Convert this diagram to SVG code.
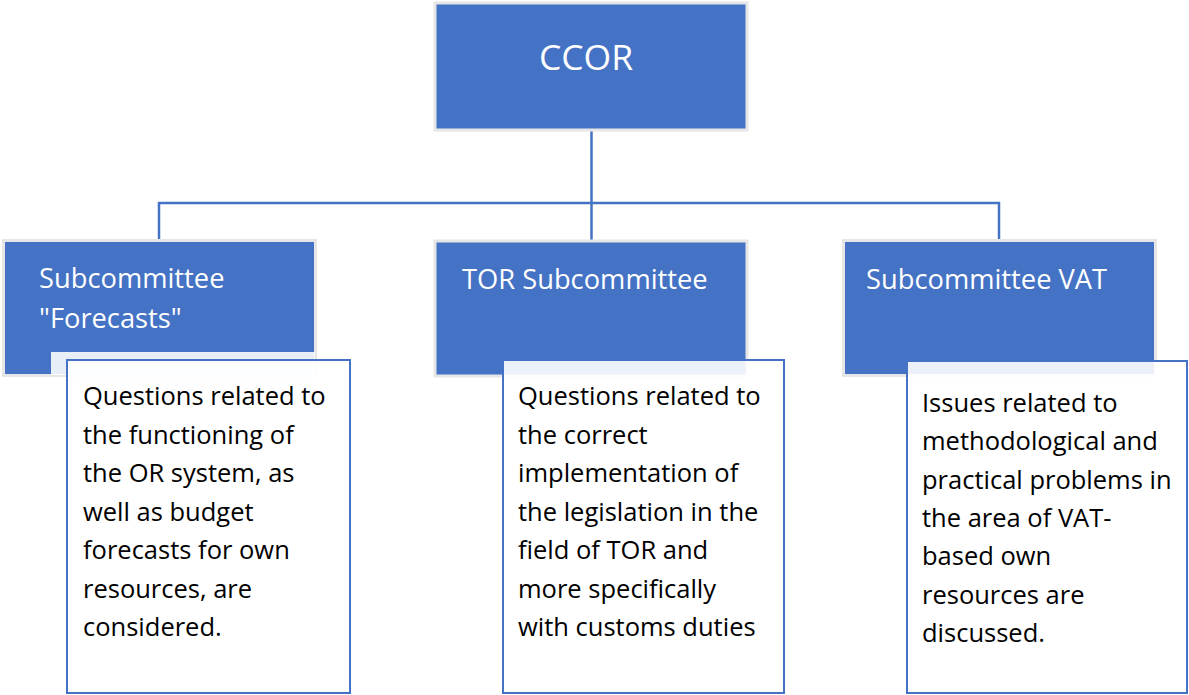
<svg xmlns="http://www.w3.org/2000/svg" width="1189" height="695" viewBox="0 0 1189 695">
<style>
.blue{fill:#4472c4;stroke:#e6e6e6;stroke-width:3}
.card{fill:#ffffff;fill-opacity:0.9;stroke:#4472c4;stroke-width:2}
.band{fill:#ffffff;fill-opacity:0.88}
.title{font-family:"Open Sans","Noto Sans",sans-serif;font-size:27.3px;fill:#ffffff}
.body{font-family:"Open Sans","Noto Sans",sans-serif;font-size:25.5px;fill:#000000}
.conn{fill:none;stroke:#4472c4;stroke-width:2.5}
</style>
<rect width="1189" height="695" fill="#ffffff"/>
<g id="connectors">
<path class="conn" d="M591.5,131 V203 M159,240 V203 H999 V240 M591.5,203 V240"/>
</g>
<g id="ccor">
<rect class="blue" x="435" y="3" width="312" height="127"/>
<text x="586" y="70" text-anchor="middle" style="font-family:'Open Sans','Noto Sans',sans-serif;font-size:35.5px;fill:#ffffff">CCOR</text>
</g>
<g id="forecasts">
<rect class="blue" x="3.5" y="240.5" width="312" height="135"/>
<text class="title" x="39" y="288">Subcommittee</text>
<text class="title" x="39" y="328">"Forecasts"</text>
</g>
<g id="forecasts-desc">
<rect class="band" x="51" y="352" width="264" height="23"/>
<rect class="card" x="67" y="360" width="283" height="333"/>
<text class="body" x="83" y="405">Questions related to</text>
<text class="body" x="83" y="443.5">the functioning of</text>
<text class="body" x="83" y="482">the OR system, as</text>
<text class="body" x="83" y="520.5">well as budget</text>
<text class="body" x="83" y="559">forecasts for own</text>
<text class="body" x="83" y="597.5">resources, are</text>
<text class="body" x="83" y="636">considered.</text>
</g>
<g id="tor">
<rect class="blue" x="435" y="241" width="312" height="135"/>
<text class="title" x="462" y="289">TOR Subcommittee</text>
</g>
<g id="tor-desc">
<rect class="card" x="503" y="360" width="281" height="333"/>
<text class="body" x="518" y="405">Questions related to</text>
<text class="body" x="518" y="443.5">the correct</text>
<text class="body" x="518" y="482">implementation of</text>
<text class="body" x="518" y="520.5">the legislation in the</text>
<text class="body" x="518" y="559">field of TOR and</text>
<text class="body" x="518" y="597.5">more specifically</text>
<text class="body" x="518" y="636">with customs duties</text>
</g>
<g id="vat">
<rect class="blue" x="843.5" y="240.5" width="312" height="135"/>
<text class="title" x="866" y="289">Subcommittee VAT</text>
</g>
<g id="vat-desc">
<rect class="card" x="907" y="361" width="280" height="332"/>
<text class="body" x="922" y="412">Issues related to</text>
<text class="body" x="922" y="450">methodological and</text>
<text class="body" x="922" y="488.5">practical problems in</text>
<text class="body" x="922" y="527">the area of VAT-</text>
<text class="body" x="922" y="565">based own</text>
<text class="body" x="922" y="603.5">resources are</text>
<text class="body" x="922" y="642">discussed.</text>
</g>
</svg>
